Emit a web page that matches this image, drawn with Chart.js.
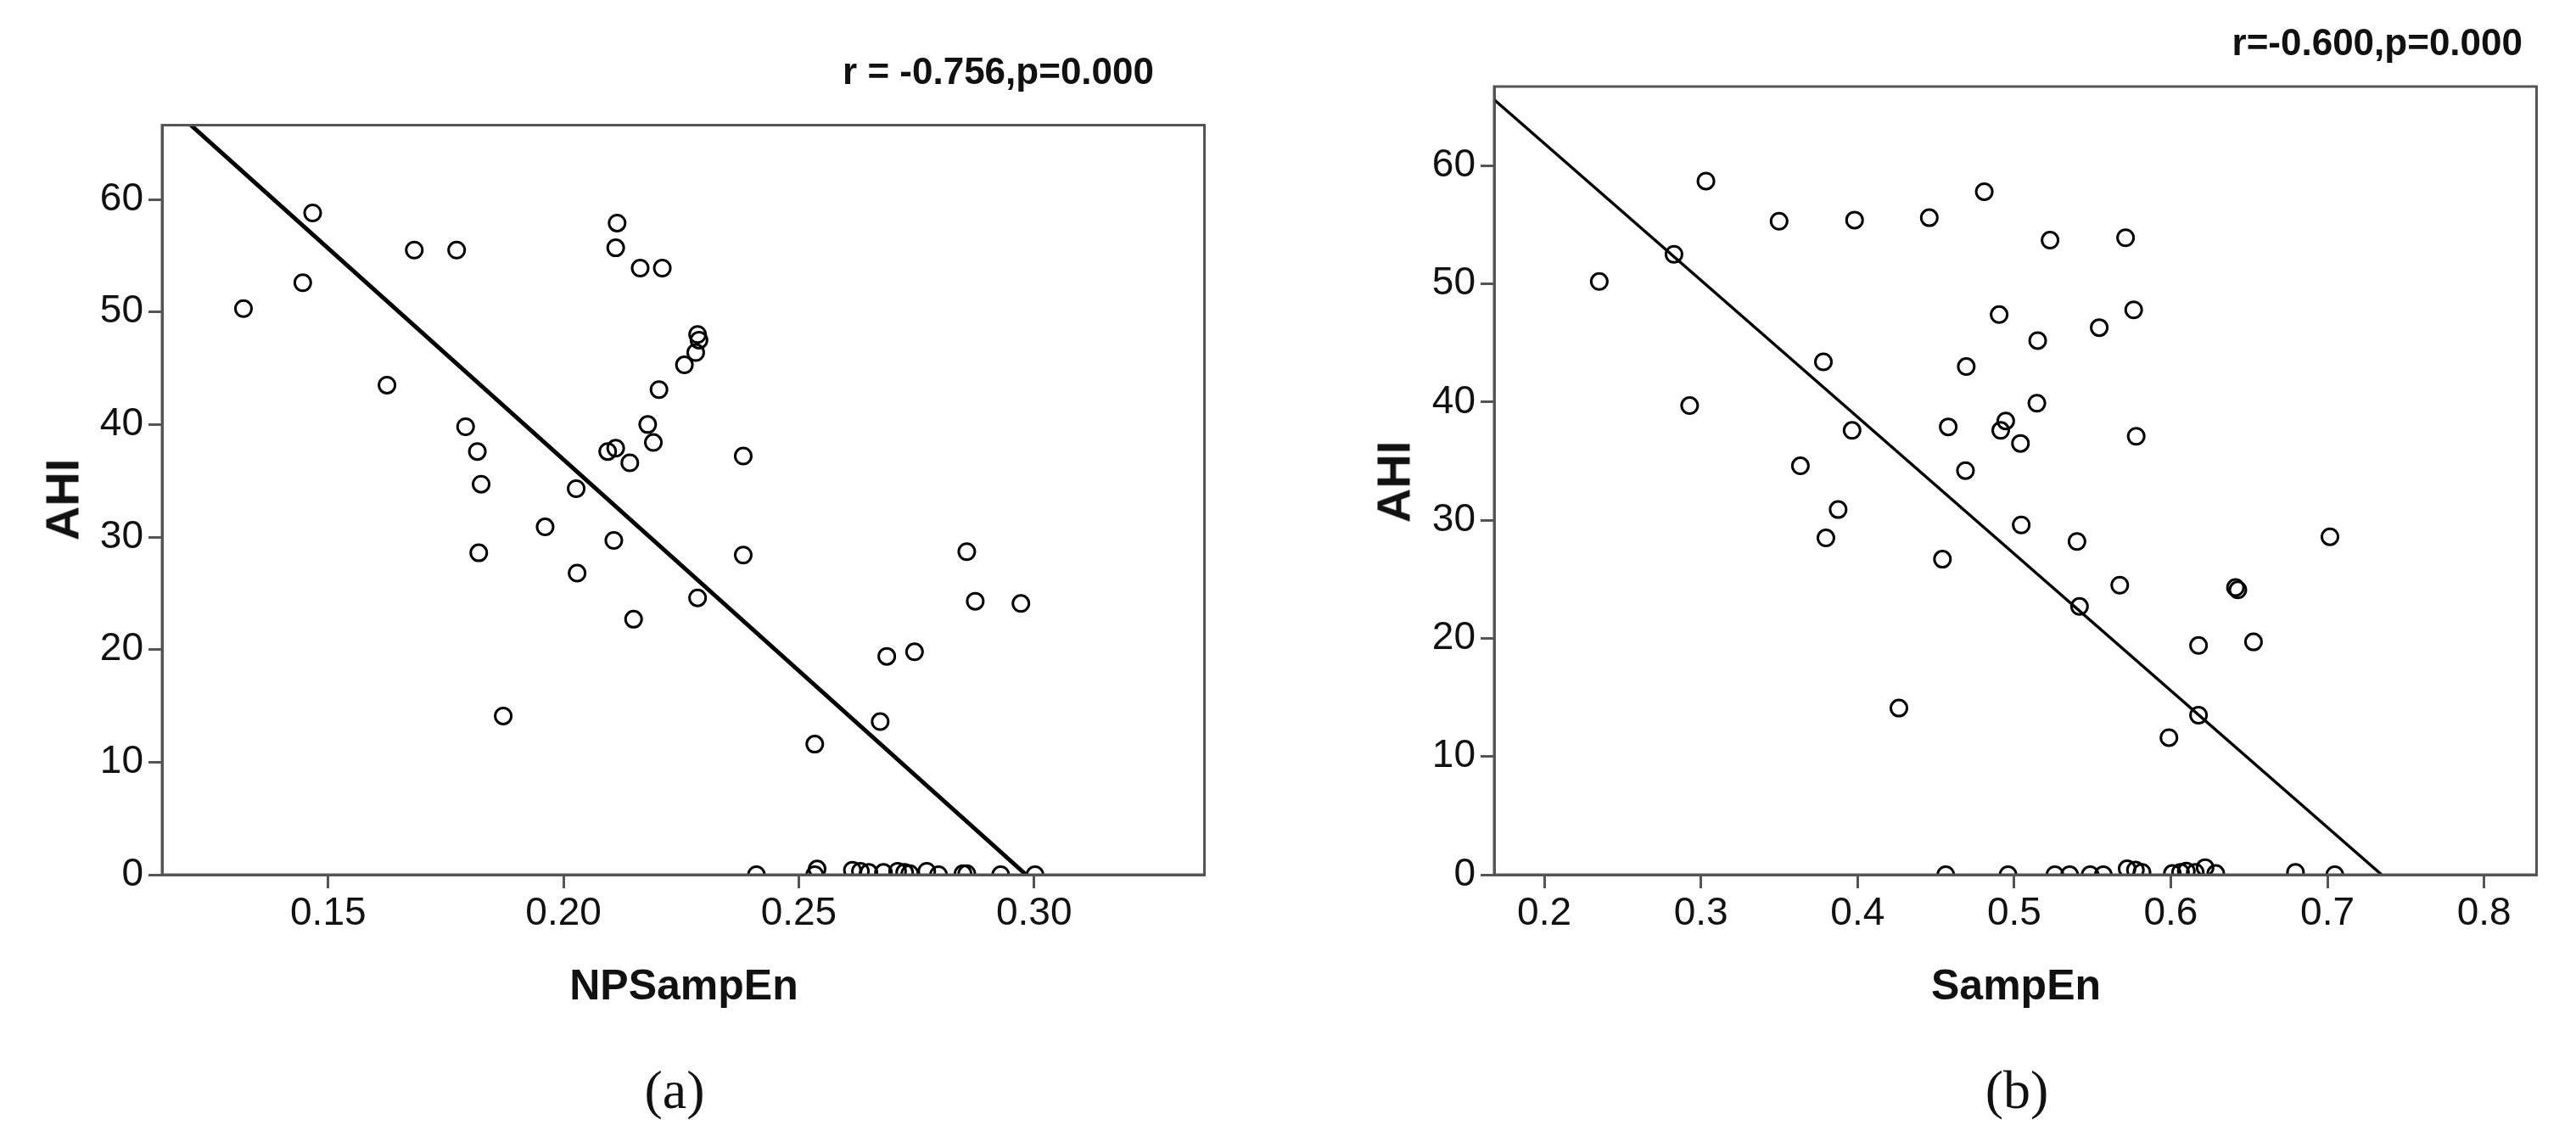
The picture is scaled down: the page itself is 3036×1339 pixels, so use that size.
<!DOCTYPE html>
<html><head><meta charset="utf-8">
<script src="https://cdn.jsdelivr.net/npm/chart.js@4.4.0/dist/chart.umd.min.js"></script>
<style>
body{margin:0;background:#fff;width:3036px;height:1339px;overflow:hidden;position:relative;font-family:"Liberation Sans",Arial,sans-serif}
canvas{position:absolute;top:0}
.t{position:absolute;transform:translate(-50%,-50%);white-space:nowrap;color:#111}
.b{font-weight:bold}
.r{position:absolute;transform:translate(-100%,-50%);white-space:nowrap;font-weight:bold;font-size:44px;color:#111}
.s{font-family:"Liberation Serif","Times New Roman",serif;font-size:64px}
</style></head><body>
<div id="w1" style="position:absolute;left:0;top:0;width:1432px;height:1339px"><canvas id="c1"></canvas></div>
<div id="w2" style="position:absolute;left:1518px;top:0;width:1484px;height:1339px"><canvas id="c2"></canvas></div>
<div class="r" style="left:1360px;top:84px">r = -0.756,p=0.000</div>
<div class="r" style="left:2973px;top:50px">r=-0.600,p=0.000</div>
<div class="t b" style="left:73px;top:589px;font-size:56px;transform:translate(-50%,-50%) rotate(-90deg)">AHI</div>
<div class="t b" style="left:1642px;top:568px;font-size:56px;transform:translate(-50%,-50%) rotate(-90deg)">AHI</div>
<div class="t b" style="left:806px;top:1161px;font-size:50px">NPSampEn</div>
<div class="t b" style="left:2376px;top:1161px;font-size:50px">SampEn</div>
<div class="t s" style="left:795px;top:1285px">(a)</div>
<div class="t s" style="left:2377px;top:1285px">(b)</div>
<script>
// Panel (a)
const npX = [0.132,0.1446,0.1467,0.1683,0.1773,0.1625,0.1792,0.1817,0.1825,0.182,0.1872,0.1961,0.2027,0.2029,0.2114,0.2111,0.2163,0.221,0.2285,0.2288,0.2281,0.2257,0.2203,0.2179,0.2191,0.2094,0.2111,0.2141,0.2107,0.2149,0.2285,0.2382,0.2382,0.2534,0.2673,0.2687,0.2746,0.2857,0.2875,0.2972,
  0.241,0.2534,0.2539,0.2614,0.2631,0.2649,0.268,0.271,0.2725,0.2736,0.2772,0.2797,0.2849,0.2857,0.2929,0.3002];
const npAHI = [50.3,52.6,58.8,55.5,55.5,43.5,39.8,37.6,34.7,28.6,14.1,30.9,34.3,26.8,57.9,55.7,53.9,53.9,48.0,47.5,46.4,45.3,43.1,40.0,38.4,37.6,37.9,36.6,29.7,22.7,24.6,37.2,28.4,11.6,13.6,19.4,19.8,28.7,24.3,24.1,
  0,0,0.5,0.4,0.3,0.2,0.2,0.3,0.2,0.1,0.3,0,0.1,0.1,0,0];
const npFitX = [0.1147,0.2983];
const npFitY = [68.9,0];
// Panel (b)
const seX = [0.2351,0.2828,0.3032,0.2928,0.3499,0.3981,0.3782,0.3635,0.3965,0.3876,0.3798,0.4264,0.4542,0.4579,0.4458,0.4809,0.4694,0.4689,0.4904,0.4946,0.4914,0.504,0.5045,0.515,0.5145,0.5229,0.5401,0.5417,0.5543,0.5711,0.5763,0.5779,0.5674,0.5988,0.6177,0.6177,0.6413,0.6428,0.6528,0.7016,
  0.4563,0.4961,0.526,0.5354,0.5485,0.5569,0.5721,0.5774,0.5816,0.601,0.6062,0.6099,0.6156,0.6219,0.6287,0.6796,0.7047];
const seAHI = [50.2,52.5,58.7,39.7,55.3,55.4,43.4,34.6,37.6,30.9,28.5,14.1,26.7,37.9,55.6,57.8,43.0,34.2,47.4,38.4,37.6,36.5,29.6,45.2,39.9,53.7,28.2,22.7,46.3,53.9,47.8,37.1,24.5,11.6,19.4,13.5,24.3,24.1,19.7,28.6,
  0,0,0,0,0,0,0.5,0.4,0.2,0.1,0.2,0.3,0.2,0.6,0.1,0.2,0];
const seFitX = [0.167,0.7346];
const seFitY = [65.7,0];
const yTicks = [0,10,20,30,40,50,60];
const npTicks = [0.15,0.20,0.25,0.30];
const seTicks = [0.2,0.3,0.4,0.5,0.6,0.7,0.8];

const boxPlugin = {id:'box', afterDraw(c){const a=c.chartArea,x=c.ctx;x.save();x.strokeStyle='#555';x.lineWidth=3;x.strokeRect(a.left,a.top,a.right-a.left,a.bottom-a.top);x.restore();}};

function make(id, xs, ys, fx, fy, xmin, xmax, ymax, xt, dec, yw, top, lw){
  const pts = xs.map((v,i)=>({x:v,y:ys[i]}));
  const line = fx.map((v,i)=>({x:v,y:fy[i]}));
  const font = {family:'"Liberation Sans", Arial, sans-serif', size:46};
  new Chart(document.getElementById(id), {
    type:'scatter',
    data:{datasets:[
      {data:pts, pointStyle:'circle', pointRadius:9.5, pointBorderWidth:3, borderColor:'#000', backgroundColor:'rgba(0,0,0,0)', pointHoverRadius:9.5},
      {type:'line', data:line, borderColor:'#000', borderWidth:lw, pointRadius:0, fill:false}
    ]},
    options:{
      responsive:true, maintainAspectRatio:false, animation:false,
      layout:{padding:{top:top,right:10,left:0,bottom:0}},
      plugins:{legend:{display:false}, tooltip:{enabled:false}},
      scales:{
        x:{type:'linear', min:xmin, max:xmax,
          afterBuildTicks:s=>{s.ticks = xt.map(v=>({value:v}));},
          afterFit:s=>{s.height=308;},
          ticks:{font, color:'#111', padding:3, callback:v=>Number(v).toFixed(dec), maxRotation:0},
          grid:{drawOnChartArea:false, tickLength:16, color:'#555', lineWidth:3},
          border:{color:'#555', width:3}},
        y:{type:'linear', min:0, max:ymax,
          afterBuildTicks:s=>{s.ticks = yTicks.map(v=>({value:v}));},
          afterFit:s=>{s.width=yw;},
          ticks:{font, color:'#111', padding:6, callback:v=>String(v)},
          grid:{drawOnChartArea:false, tickLength:16, color:'#555', lineWidth:3},
          border:{color:'#555', width:3}}
      }
    },
    plugins:[boxPlugin]
  });
}
make('c1', npX, npAHI, npFitX, npFitY, 0.1147, 0.3362, 66.6, npTicks, 2, 191, 147.5, 5);
make('c2', seX, seAHI, seFitX, seFitY, 0.168, 0.8335, 66.7, seTicks, 1, 243, 102, 3.5);
</script>
</body></html>
